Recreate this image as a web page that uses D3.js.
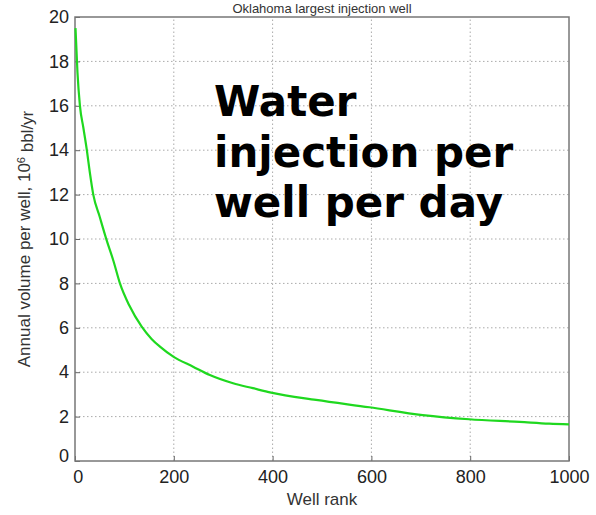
<!DOCTYPE html>
<html>
<head>
<meta charset="utf-8">
<script src="https://cdn.jsdelivr.net/npm/d3@7"></script>
<style>
  body { margin: 0; background: #fff; }
  text { font-family: "Liberation Sans", Arial, sans-serif; }
</style>
</head>
<body>
<div id="chart"></div>
<script>
// well rank vs annual volume (10^6 bbl/yr)
let ranks  = [1, 5, 10, 17, 24, 30, 37, 50, 64, 78, 91, 110, 135, 155, 172, 199, 239, 273, 320, 360, 397, 488, 596, 704, 798, 900, 960, 1000];
let volume = [19.5, 17.5, 16.0, 15.0, 14.0, 13.0, 12.0, 11.0, 9.95, 9.0, 8.0, 7.0, 6.05, 5.5, 5.15, 4.7, 4.25, 3.87, 3.5, 3.28, 3.08, 2.75, 2.42, 2.07, 1.88, 1.76, 1.68, 1.65];

let xTicks = [0, 200, 400, 600, 800, 1000];
let yTicks = [0, 2, 4, 6, 8, 10, 12, 14, 16, 18, 20];
let overlayLines = ["Water", "injection per", "well per day"];

let width = 596, height = 515;
let margin = {top: 17, right: 27, bottom: 54, left: 75};

let svg = d3.select("#chart")
    .append("svg")
    .attr("width", width)
    .attr("height", height);

let x = d3.scaleLinear().domain([0, 1000]).range([margin.left, width - margin.right]);
let y = d3.scaleLinear().domain([0, 20]).range([height - margin.bottom, margin.top]);

// title, squeezed in above the frame
svg.append("text")
    .attr("x", (x(0) + x(1000)) / 2)
    .attr("y", 13)
    .attr("text-anchor", "middle")
    .style("font-size", "13px")
    .style("fill", "#333")
    .text("Oklahoma largest injection well");

// dotted grid
svg.append("g").selectAll("line")
    .data(xTicks.slice(1, -1))
    .enter().append("line")
    .attr("x1", d => x(d)).attr("x2", d => x(d))
    .attr("y1", y(0)).attr("y2", y(20))
    .attr("stroke", "#aaa")
    .attr("stroke-dasharray", "1.5,2.5");

svg.append("g").selectAll("line")
    .data(yTicks.slice(1, -1))
    .enter().append("line")
    .attr("x1", x(0)).attr("x2", x(1000))
    .attr("y1", d => y(d)).attr("y2", d => y(d))
    .attr("stroke", "#aaa")
    .attr("stroke-dasharray", "1.5,2.5");

// axes with inward ticks
let xAxis = svg.append("g")
    .attr("transform", "translate(0," + y(0) + ")")
    .call(d3.axisBottom(x).tickValues(xTicks).tickFormat(d3.format("d"))
        .tickSizeInner(-5).tickSizeOuter(0).tickPadding(9));
let yAxis = svg.append("g")
    .attr("transform", "translate(" + x(0) + ",0)")
    .call(d3.axisLeft(y).tickValues(yTicks).tickSizeInner(-5).tickSizeOuter(0).tickPadding(6));

[xAxis, yAxis].forEach(function(a) {
    a.select(".domain").remove();
    a.selectAll(".tick line").attr("stroke", "#666");
    a.selectAll(".tick text")
        .style("font-family", "'Liberation Sans', Arial, sans-serif")
        .style("font-size", "18px")
        .style("fill", "#222");
});
xAxis.selectAll(".tick text").attr("dy", "0.71em");
yAxis.selectAll(".tick text").filter(d => d === 0).attr("dy", "0.05em");
xAxis.selectAll(".tick text").filter(d => d === 0).attr("dx", "0.15em");

// frame
svg.append("rect")
    .attr("x", x(0)).attr("y", y(20))
    .attr("width", x(1000) - x(0))
    .attr("height", y(0) - y(20))
    .attr("fill", "none")
    .attr("stroke", "#777")
    .attr("stroke-width", 1.5);

// curve
let line = d3.line()
    .x((d, i) => x(ranks[i]))
    .y(d => y(d))
    .curve(d3.curveMonotoneX);

svg.append("path")
    .datum(volume)
    .attr("d", line)
    .attr("fill", "none")
    .attr("stroke", "#1fd81f")
    .attr("stroke-width", 2.2);

// axis labels
svg.append("text")
    .attr("x", (x(0) + x(1000)) / 2)
    .attr("y", 505)
    .attr("text-anchor", "middle")
    .style("font-size", "17px")
    .style("fill", "#333")
    .text("Well rank");

let yl = svg.append("text")
    .attr("transform", "translate(30," + ((y(0) + y(20)) / 2) + ") rotate(-90)")
    .attr("text-anchor", "middle")
    .style("font-size", "17px")
    .style("fill", "#333");
yl.append("tspan").text("Annual volume per well, 10");
yl.append("tspan").attr("dy", "-0.5em").style("font-size", "11px").text("6");
yl.append("tspan").attr("dy", "0.5em").text(" bbl/yr");

// overlay text
svg.append("g").selectAll("text")
    .data(overlayLines)
    .enter().append("text")
    .attr("x", 214)
    .attr("y", (d, i) => 116 + i * 50.5)
    .style("font-family", "'DejaVu Sans', Verdana, sans-serif")
    .style("font-weight", "bold")
    .style("font-size", "42px")
    .style("fill", "#000")
    .text(d => d);
</script>
</body>
</html>
